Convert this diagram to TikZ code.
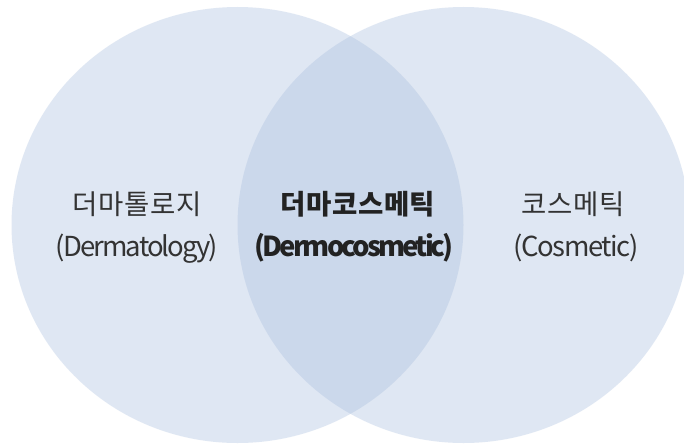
\documentclass[tikz,border=0pt]{standalone}
\usepackage{fontspec}
\setmainfont{Noto Sans CJK KR}
\newfontfamily\korfont[LetterSpace=2]{Noto Sans CJK KR}
\newfontfamily\engfont[LetterSpace=-7]{Noto Sans CJK KR}
\newfontfamily\engbfont[LetterSpace=-10.5]{Noto Sans CJK KR}
\definecolor{vennfill}{RGB}{169,191,222}
\definecolor{txt}{RGB}{51,51,51}
\definecolor{txtb}{RGB}{34,34,34}
\begin{document}
\begin{tikzpicture}[x=1pt,y=-1pt,
  venn/.style={fill=vennfill,fill opacity=0.36,draw=none},
  kor/.style={anchor=base,inner sep=0pt,text=txt,font=\korfont\fontsize{27.5}{30}\selectfont},
  eng/.style={anchor=base,inner sep=0pt,text=txt,font=\engfont\fontsize{27.5}{30}\selectfont},
  korb/.style={anchor=base,inner sep=0pt,text=txtb,font=\korfont\fontsize{27.5}{30}\selectfont\bfseries},
  engb/.style={anchor=base,inner sep=0pt,text=txtb,font=\engbfont\fontsize{27.5}{30}\selectfont\bfseries}]
\useasboundingbox (0,0) rectangle (684,444);
\fill[white] (0,0) rectangle (684,444);
\path[venn] (237.5,225) ellipse [x radius=226, y radius=218];
\path[venn] (463.5,225) ellipse [x radius=226, y radius=218];
\node[kor] (lk) at (137,214) {더마톨로지};
\node[eng] (le) at (137,256) {(Dermatology)};
\node[korb] (mk) at (358,214) {더마코스메틱};
\node[engb] (me) at (354,256) {(Dermocosmetic)};
\node[kor] (rk) at (573,214) {코스메틱};
\node[eng] (re) at (576,256) {\addfontfeature{LetterSpace=-5}(Cosmetic)};
\end{tikzpicture}
\end{document}
